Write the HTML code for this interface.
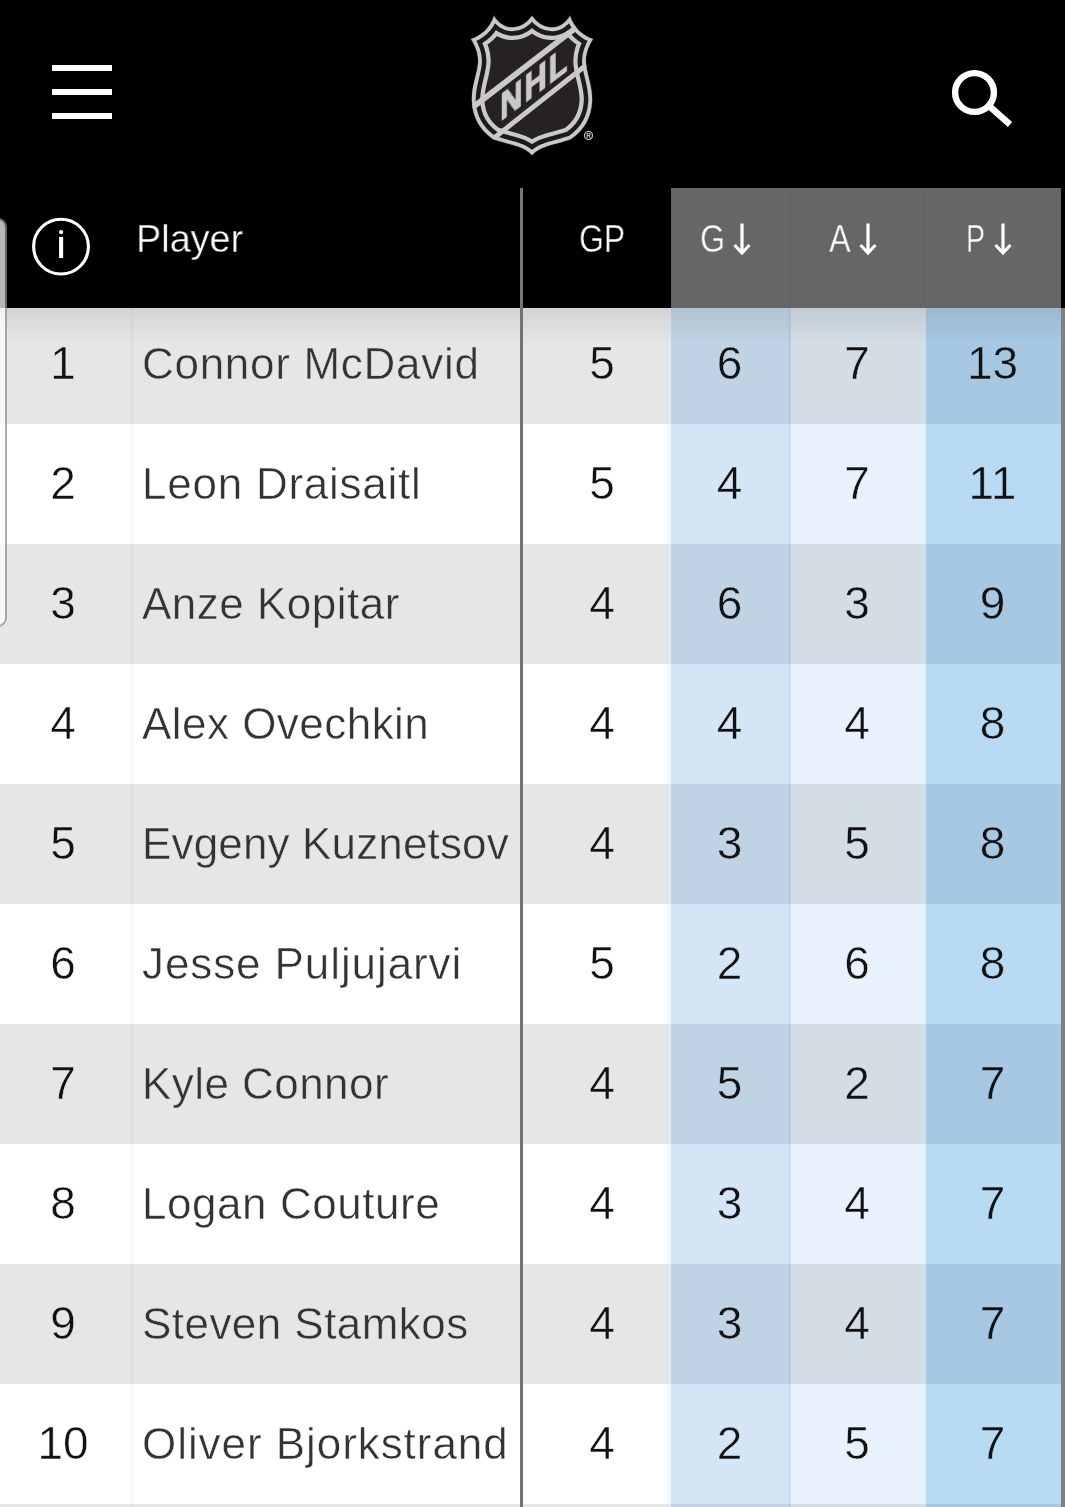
<!DOCTYPE html>
<html><head><meta charset="utf-8"><title>NHL Stats Leaders</title>
<style>
*{margin:0;padding:0;box-sizing:border-box}
html,body{width:1065px;height:1507px;overflow:hidden;background:#fff}
body{position:relative;font-family:"Liberation Sans",Arial,sans-serif}
.top{position:absolute;left:0;top:0;width:1065px;height:308px;background:#000}
.bar{position:absolute;left:52px;width:60px;height:6px;background:#fff}
.logo{position:absolute;left:465px;top:10px}
.search{position:absolute;left:940px;top:60px}
.hdr-gray{position:absolute;left:671px;top:188px;width:390px;height:120px;background:#666}
.hsep{position:absolute;top:188px;width:2px;height:120px;background:#626262}
.hvline{position:absolute;left:520px;top:188px;width:3px;height:120px;background:#777}
.info{position:absolute;left:30px;top:215px}
.hl{position:absolute;line-height:1;color:#fff;white-space:nowrap;transform-origin:0 0}
.hc{text-align:center}
.arr{position:absolute;top:222px}
.row{position:absolute;left:0;width:1065px;height:120px}
.row.g{background:#e6e6e6}
.row.w{background:#fff}
.cell{position:absolute;top:0;height:120px}
.cg{left:671px;width:120px}.ca{left:791px;width:135px}.cp{left:926px;width:135px}
.g .cg{background:#c0d3e4}.w .cg{background:#d4e6f6}
.g .ca{background:#d3dde6}.w .ca{background:#e8f2fc}
.g .cp{background:#a7c8e2}.w .cp{background:#b8dbf3}
.vl1{position:absolute;left:130px;top:0;width:3px;height:120px;background:rgba(0,0,0,0.025)}
.t{position:absolute;line-height:1;font-size:46px;white-space:nowrap;text-align:center}
.t.nm{font-size:44px}
.rk{left:0;width:126px;color:#111}
.nm{left:141.7px;text-align:left;color:#333}
.gp{left:533px;width:138px;color:#111}
.tg{left:670.3px;width:119px;color:#111}
.ta{left:788.5px;width:136px;color:#111}
.tp{left:925px;width:135px;color:#111}
.shadow{position:absolute;left:0;top:308px;width:1065px;height:36px;background:linear-gradient(rgba(0,0,0,0.075),rgba(0,0,0,0))}
.vline{position:absolute;left:520px;top:308px;width:3px;height:1199px;background:#737373}
.rborder{position:absolute;left:1061px;top:308px;width:4px;height:1199px;background:#808080}
.pill{position:absolute;left:-12px;top:218px;width:19px;height:409px;border:2px solid #909090;border-radius:9px;background:#fff;opacity:0.72}
.t,.hl{will-change:transform}
.logo text{will-change:transform}
.vl2{position:absolute;left:788px;top:0;width:3px;height:120px;background:rgba(0,40,80,0.03)}
.gpg{position:absolute;left:663px;top:0;width:8px;height:120px;background:linear-gradient(to right,rgba(215,235,250,0),rgba(215,235,250,0.35))}
.t{-webkit-text-stroke-width:0.5px}
.g .rk,.g .nm,.g .gp{-webkit-text-stroke-color:#e6e6e6}
.w .rk,.w .nm,.w .gp{-webkit-text-stroke-color:#fff}
.g .tg{-webkit-text-stroke-color:#c0d3e4}.w .tg{-webkit-text-stroke-color:#d4e6f6}
.g .ta{-webkit-text-stroke-color:#d3dde6}.w .ta{-webkit-text-stroke-color:#e8f2fc}
.g .tp{-webkit-text-stroke-color:#a7c8e2}.w .tp{-webkit-text-stroke-color:#b8dbf3}

</style></head><body>
<div class="row g" style="top:304px"><div class="cell cg"></div><div class="cell ca"></div><div class="cell cp"></div><div class="vl1"></div><div class="vl2"></div><div class="gpg"></div><span class="t rk" style="top:36.06px">1</span><span class="t nm" style="top:37.75px;letter-spacing:0.708px">Connor McDavid</span><span class="t gp" style="top:36.06px">5</span><span class="t tg" style="top:36.06px">6</span><span class="t ta" style="top:36.06px">7</span><span class="t tp" style="top:36.06px">13</span></div>
<div class="row w" style="top:424px"><div class="cell cg"></div><div class="cell ca"></div><div class="cell cp"></div><div class="vl1"></div><div class="vl2"></div><div class="gpg"></div><span class="t rk" style="top:36.06px">2</span><span class="t nm" style="top:37.75px;letter-spacing:0.754px">Leon Draisaitl</span><span class="t gp" style="top:36.06px">5</span><span class="t tg" style="top:36.06px">4</span><span class="t ta" style="top:36.06px">7</span><span class="t tp" style="top:36.06px">11</span></div>
<div class="row g" style="top:544px"><div class="cell cg"></div><div class="cell ca"></div><div class="cell cp"></div><div class="vl1"></div><div class="vl2"></div><div class="gpg"></div><span class="t rk" style="top:36.06px">3</span><span class="t nm" style="top:37.75px;letter-spacing:0.491px">Anze Kopitar</span><span class="t gp" style="top:36.06px">4</span><span class="t tg" style="top:36.06px">6</span><span class="t ta" style="top:36.06px">3</span><span class="t tp" style="top:36.06px">9</span></div>
<div class="row w" style="top:664px"><div class="cell cg"></div><div class="cell ca"></div><div class="cell cp"></div><div class="vl1"></div><div class="vl2"></div><div class="gpg"></div><span class="t rk" style="top:36.06px">4</span><span class="t nm" style="top:37.75px;letter-spacing:0.466px">Alex Ovechkin</span><span class="t gp" style="top:36.06px">4</span><span class="t tg" style="top:36.06px">4</span><span class="t ta" style="top:36.06px">4</span><span class="t tp" style="top:36.06px">8</span></div>
<div class="row g" style="top:784px"><div class="cell cg"></div><div class="cell ca"></div><div class="cell cp"></div><div class="vl1"></div><div class="vl2"></div><div class="gpg"></div><span class="t rk" style="top:36.06px">5</span><span class="t nm" style="top:37.75px;letter-spacing:0.147px">Evgeny Kuznetsov</span><span class="t gp" style="top:36.06px">4</span><span class="t tg" style="top:36.06px">3</span><span class="t ta" style="top:36.06px">5</span><span class="t tp" style="top:36.06px">8</span></div>
<div class="row w" style="top:904px"><div class="cell cg"></div><div class="cell ca"></div><div class="cell cp"></div><div class="vl1"></div><div class="vl2"></div><div class="gpg"></div><span class="t rk" style="top:36.06px">6</span><span class="t nm" style="top:37.75px;letter-spacing:0.907px">Jesse Puljujarvi</span><span class="t gp" style="top:36.06px">5</span><span class="t tg" style="top:36.06px">2</span><span class="t ta" style="top:36.06px">6</span><span class="t tp" style="top:36.06px">8</span></div>
<div class="row g" style="top:1024px"><div class="cell cg"></div><div class="cell ca"></div><div class="cell cp"></div><div class="vl1"></div><div class="vl2"></div><div class="gpg"></div><span class="t rk" style="top:36.06px">7</span><span class="t nm" style="top:37.75px;letter-spacing:0.440px">Kyle Connor</span><span class="t gp" style="top:36.06px">4</span><span class="t tg" style="top:36.06px">5</span><span class="t ta" style="top:36.06px">2</span><span class="t tp" style="top:36.06px">7</span></div>
<div class="row w" style="top:1144px"><div class="cell cg"></div><div class="cell ca"></div><div class="cell cp"></div><div class="vl1"></div><div class="vl2"></div><div class="gpg"></div><span class="t rk" style="top:36.06px">8</span><span class="t nm" style="top:37.75px;letter-spacing:0.550px">Logan Couture</span><span class="t gp" style="top:36.06px">4</span><span class="t tg" style="top:36.06px">3</span><span class="t ta" style="top:36.06px">4</span><span class="t tp" style="top:36.06px">7</span></div>
<div class="row g" style="top:1264px"><div class="cell cg"></div><div class="cell ca"></div><div class="cell cp"></div><div class="vl1"></div><div class="vl2"></div><div class="gpg"></div><span class="t rk" style="top:36.06px">9</span><span class="t nm" style="top:37.75px;letter-spacing:0.447px">Steven Stamkos</span><span class="t gp" style="top:36.06px">4</span><span class="t tg" style="top:36.06px">3</span><span class="t ta" style="top:36.06px">4</span><span class="t tp" style="top:36.06px">7</span></div>
<div class="row w" style="top:1384px"><div class="cell cg"></div><div class="cell ca"></div><div class="cell cp"></div><div class="vl1"></div><div class="vl2"></div><div class="gpg"></div><span class="t rk" style="top:36.06px">10</span><span class="t nm" style="top:37.75px;letter-spacing:0.942px">Oliver Bjorkstrand</span><span class="t gp" style="top:36.06px">4</span><span class="t tg" style="top:36.06px">2</span><span class="t ta" style="top:36.06px">5</span><span class="t tp" style="top:36.06px">7</span></div>
<div class="row g" style="top:1504px"><div class="cell cg"></div><div class="cell ca"></div><div class="cell cp"></div><div class="vl1"></div><div class="vl2"></div><div class="gpg"></div></div>
<div class="shadow"></div>
<div class="vline"></div>
<div class="rborder"></div>
<div class="top"></div>
<div class="bar" style="top:65px"></div><div class="bar" style="top:89px"></div><div class="bar" style="top:113px"></div>
<svg class="logo" width="140" height="150" viewBox="465 10 140 150">
<defs><clipPath id="sh"><path id="shp" d="M532 16C538 24 545 27.5 552 27.5C559 27.5 566 23 570 16C574 28 583 36 593 39C588 47 585 55 586 64C587 75 593 88 592 102C591 118 584 130 571 139C555 145 541 145 532 155C523 145 509 145 493 139C480 130 473 118 472 102C471 88 477 75 478 64C479 55 476 47 471 39C481 36 490 28 494 16C498 23 505 27.5 512 27.5C519 27.5 526 24 532 16Z"/></clipPath></defs>
<use href="#shp" fill="#262223" stroke="#161616" stroke-width="2"/>
<g clip-path="url(#sh)">
<use href="#shp" fill="none" stroke="#c9c9c9" stroke-width="25"/>
<use href="#shp" fill="none" stroke="#1b1b1b" stroke-width="16.5"/>
<use href="#shp" fill="none" stroke="#c9c9c9" stroke-width="7.5"/>
<path d="M470 105.85 L600 5.75 L600 12.95 L470 113.05Z" fill="#c9c9c9"/>
<path d="M470 153.76 L600 51.06 L600 57.36 L470 160.06Z" fill="#c9c9c9"/>
</g>
<text transform="matrix(0.84,-0.638,0,1,500.4,121.1)" font-family="Liberation Sans,Arial,sans-serif" font-weight="bold" font-size="36.3" fill="#cacaca" stroke="#cacaca" stroke-width="1.4" letter-spacing="2.5">NHL</text>
<circle cx="588.5" cy="135.5" r="4" fill="none" stroke="#c9c9c9" stroke-width="1.2"/>
<text x="588.5" y="138" font-family="Liberation Sans,Arial,sans-serif" font-size="6.5" font-weight="bold" fill="#c9c9c9" text-anchor="middle">R</text>
</svg>

<svg class="search" width="80" height="80" viewBox="0 0 80 80"><circle cx="34.5" cy="32.5" r="19.4" fill="none" stroke="#fff" stroke-width="6.4"/><line x1="48" y1="45" x2="70" y2="64.5" stroke="#fff" stroke-width="6.4"/></svg>

<div class="hdr-gray"></div><div class="hsep" style="left:789px"></div><div class="hsep" style="left:924px"></div>
<div class="hvline"></div>
<svg class="info" width="64" height="64" viewBox="0 0 64 64"><circle cx="31" cy="31.6" r="27.4" fill="none" stroke="#fff" stroke-width="3.1"/><circle cx="31.1" cy="17.1" r="2.15" fill="#fff"/><rect x="29.05" y="21.9" width="4.1" height="21.2" fill="#fff"/></svg>

<span class="hl" style="left:136.2px;top:219.09px;font-size:39px;transform:scaleX(0.97);-webkit-text-stroke:0.4px #000">Player</span>
<span class="hl" style="left:579.4px;top:219.09px;font-size:39px;transform:scaleX(0.82);-webkit-text-stroke:0.4px #000">GP</span>
<span class="hl" style="left:700px;top:219.09px;font-size:39px;transform:scaleX(0.825);-webkit-text-stroke:0.4px #666">G</span>
<span class="hl" style="left:828.9px;top:219.09px;font-size:39px;transform:scaleX(0.835);-webkit-text-stroke:0.4px #666">A</span>
<span class="hl" style="left:965.8px;top:219.09px;font-size:39px;transform:scaleX(0.73);-webkit-text-stroke:0.4px #666">P</span>
<svg class="arr" style="left:733px" width="18" height="34" viewBox="0 0 18 34"><path d="M9 1.5V30.5M1.5 23L9 31L16.5 23" fill="none" stroke="#fff" stroke-width="3.2"/></svg>
<svg class="arr" style="left:859px" width="18" height="34" viewBox="0 0 18 34"><path d="M9 1.5V30.5M1.5 23L9 31L16.5 23" fill="none" stroke="#fff" stroke-width="3.2"/></svg>
<svg class="arr" style="left:993.5px" width="18" height="34" viewBox="0 0 18 34"><path d="M9 1.5V30.5M1.5 23L9 31L16.5 23" fill="none" stroke="#fff" stroke-width="3.2"/></svg>
<div class="pill"></div>
</body></html>
